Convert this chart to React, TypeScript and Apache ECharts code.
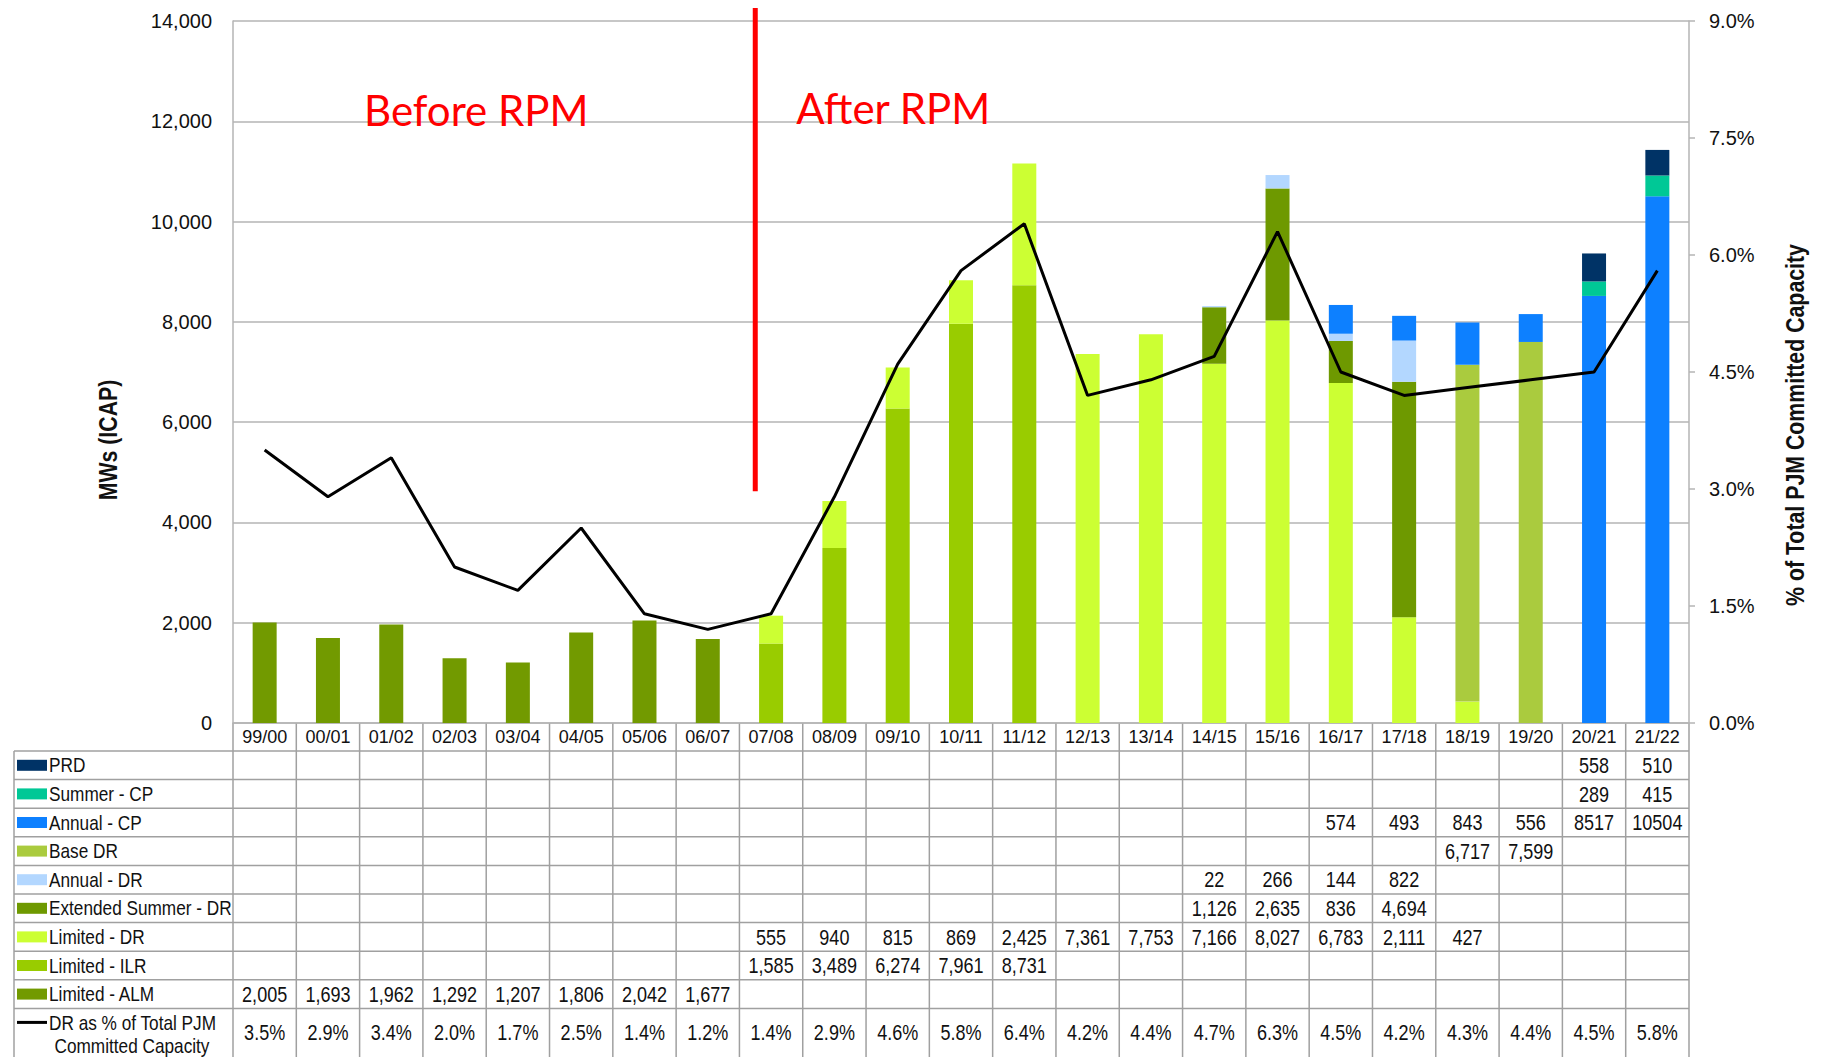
import React, { useEffect, useRef } from "react";
import * as echarts from "echarts";

const categories = ["99/00", "00/01", "01/02", "02/03", "03/04", "04/05", "05/06", "06/07", "07/08", "08/09", "09/10", "10/11", "11/12", "12/13", "13/14", "14/15", "15/16", "16/17", "17/18", "18/19", "19/20", "20/21", "21/22"];

const limitedALM = [2005, 1693, 1962, 1292, 1207, 1806, 2042, 1677, null, null, null, null, null, null, null, null, null, null, null, null, null, null, null];
const limitedILR = [null, null, null, null, null, null, null, null, 1585, 3489, 6274, 7961, 8731, null, null, null, null, null, null, null, null, null, null];
const limitedDR = [null, null, null, null, null, null, null, null, 555, 940, 815, 869, 2425, 7361, 7753, 7166, 8027, 6783, 2111, 427, null, null, null];
const extendedSummerDR = [null, null, null, null, null, null, null, null, null, null, null, null, null, null, null, 1126, 2635, 836, 4694, null, null, null, null];
const annualDR = [null, null, null, null, null, null, null, null, null, null, null, null, null, null, null, 22, 266, 144, 822, null, null, null, null];
const baseDR = [null, null, null, null, null, null, null, null, null, null, null, null, null, null, null, null, null, null, null, 6717, 7599, null, null];
const annualCP = [null, null, null, null, null, null, null, null, null, null, null, null, null, null, null, null, null, 574, 493, 843, 556, 8517, 10504];
const summerCP = [null, null, null, null, null, null, null, null, null, null, null, null, null, null, null, null, null, null, null, null, null, 289, 415];
const prd = [null, null, null, null, null, null, null, null, null, null, null, null, null, null, null, null, null, null, null, null, null, 558, 510];
const drPercent = [3.5, 2.9, 3.4, 2.0, 1.7, 2.5, 1.4, 1.2, 1.4, 2.9, 4.6, 5.8, 6.4, 4.2, 4.4, 4.7, 6.3, 4.5, 4.2, 4.3, 4.4, 4.5, 5.8];

const leftTicks = { min: 0, max: 14000, interval: 2000 };
const rightTicks = { min: 0, max: 9, interval: 1.5 };

const beforeLabel = "Before RPM";
const afterLabel = "After RPM";
const leftTitle = "MWs (ICAP)";
const rightTitle = "% of Total PJM Committed Capacity";
const lineLabel = ["DR as % of Total PJM", "Committed Capacity"];

const COLORS = {
  alm: "#729A00",
  ilr: "#99CC00",
  limDR: "#CCFF33",
  ext: "#6E9900",
  annDR: "#B3D7FF",
  base: "#AACB3E",
  annCP: "#0D80FF",
  sumCP: "#00C896",
  prd: "#003366",
};

// bottom -> top stacking
const stackSeries = [
  { name: "Limited - ALM", data: limitedALM, color: COLORS.alm, comma: true },
  { name: "Limited - ILR", data: limitedILR, color: COLORS.ilr, comma: true },
  { name: "Limited - DR", data: limitedDR, color: COLORS.limDR, comma: true },
  { name: "Extended Summer - DR", data: extendedSummerDR, color: COLORS.ext, comma: true },
  { name: "Annual - DR", data: annualDR, color: COLORS.annDR, comma: true },
  { name: "Base DR", data: baseDR, color: COLORS.base, comma: true },
  { name: "Annual - CP", data: annualCP, color: COLORS.annCP, comma: false },
  { name: "Summer - CP", data: summerCP, color: COLORS.sumCP, comma: true },
  { name: "PRD", data: prd, color: COLORS.prd, comma: true },
];

const SANS = "'Liberation Sans', Arial, Helvetica, sans-serif";
const CALIBRI = "Lato, 'Open Sans', sans-serif";
const NARROW_SCALE = 0.82;

const W = 1824;
const H = 1057;
const GRID = { left: 233, top: 21, right: W - 1689, bottom: H - 723 };
const GRIDLINE = "#B4B4B4";
const TABLE_LINE = "#A0A0A0";
const HEADER_H = 28;
const ROW_H = 28.6;
const TABLE_LEFT = 14;

const fmt = (v: number, comma: boolean) => (comma ? v.toLocaleString("en-US") : String(v));

const narrowText = (text: string, x: number, y: number, align: string, size = 21, bold = false, rotation = 0) => ({
  type: "text",
  x,
  y,
  rotation,
  scaleX: NARROW_SCALE,
  silent: true,
  style: {
    text,
    fontFamily: SANS,
    fontSize: size,
    fontWeight: bold ? "bold" : "normal",
    fill: "#111",
    align,
    verticalAlign: "middle",
  },
});

export default function App() {
  const ref = useRef<HTMLDivElement>(null);
  useEffect(() => {
    const chart = echarts.init(ref.current!, null, { renderer: "svg" });
    const option: any = {
      animation: false,
      backgroundColor: "#fff",
      grid: { ...GRID, containLabel: false },
      xAxis: {
        type: "category",
        data: categories,
        axisLine: { show: true, lineStyle: { color: GRIDLINE, width: 1.5 } },
        axisTick: { show: false },
        axisLabel: {
          fontFamily: SANS,
          fontSize: 18,
          color: "#111",
          margin: 14,
          verticalAlign: "middle",
          interval: 0,
        },
      },
      yAxis: [
        {
          type: "value",
          ...leftTicks,
          axisLine: { show: true, lineStyle: { color: GRIDLINE, width: 1.5 } },
          axisTick: { show: false },
          splitLine: { show: true, lineStyle: { color: GRIDLINE, width: 1.5 } },
          axisLabel: {
            fontFamily: SANS,
            fontSize: 20,
            color: "#111",
            margin: 21,
            formatter: (v: number) => v.toLocaleString("en-US"),
          },
        },
        {
          type: "value",
          position: "right",
          ...rightTicks,
          axisLine: { show: true, lineStyle: { color: GRIDLINE, width: 1.5 } },
          axisTick: { show: true, length: 6, lineStyle: { color: GRIDLINE, width: 1.5 } },
          splitLine: { show: false },
          axisLabel: {
            fontFamily: SANS,
            fontSize: 20,
            color: "#111",
            margin: 20,
            formatter: (v: number) => v.toFixed(1) + "%",
          },
        },
      ],
      series: [
        ...stackSeries.map((s) => ({
          name: s.name,
          type: "bar",
          stack: "dr",
          barWidth: 24,
          data: s.data,
          itemStyle: { color: s.color },
          emphasis: { disabled: true },
        })),
        {
          name: "DR as % of Total PJM Committed Capacity",
          type: "line",
          yAxisIndex: 1,
          data: drPercent,
          symbol: "none",
          lineStyle: { color: "#000", width: 3 },
          z: 5,
        },
      ],
    };
    chart.setOption(option);

    const cx = categories.map((c) => chart.convertToPixel({ xAxisIndex: 0 }, c) as number);
    const cw = cx[1] - cx[0];
    const zeroY = chart.convertToPixel({ yAxisIndex: 0 }, 0) as number;
    const topY = chart.convertToPixel({ yAxisIndex: 0 }, leftTicks.max) as number;
    const gridLeft = cx[0] - cw / 2;
    const gridRight = cx[cx.length - 1] + cw / 2;
    const headerBottom = zeroY + HEADER_H;

    const els: any[] = [];
    const lineStyle = { stroke: TABLE_LINE, lineWidth: 1.5 };
    for (let k = 0; k <= 9; k++) {
      const y = headerBottom + k * ROW_H;
      els.push({ type: "line", shape: { x1: TABLE_LEFT, y1: y, x2: gridRight, y2: y }, style: lineStyle, silent: true });
    }
    els.push({ type: "line", shape: { x1: TABLE_LEFT, y1: headerBottom, x2: TABLE_LEFT, y2: H }, style: lineStyle, silent: true });
    for (let i = 0; i <= categories.length; i++) {
      const x = gridLeft + i * cw;
      els.push({ type: "line", shape: { x1: x, y1: zeroY, x2: x, y2: H }, style: lineStyle, silent: true });
    }
    const rows = [...stackSeries].reverse();
    rows.forEach((s, r) => {
      const yc = headerBottom + r * ROW_H + ROW_H / 2;
      els.push({ type: "rect", shape: { x: 17, y: yc - 5.5, width: 30, height: 11 }, style: { fill: s.color }, silent: true });
      els.push(narrowText(s.name, 49, yc, "left"));
      s.data.forEach((v, i) => {
        if (v == null) return;
        els.push(narrowText(fmt(v as number, s.comma), cx[i], yc, "center", 22));
      });
    });
    const lastTop = headerBottom + 9 * ROW_H;
    const lastMid = (lastTop + H) / 2;
    els.push({ type: "line", shape: { x1: 17, y1: lastTop + 14, x2: 47, y2: lastTop + 14 }, style: { stroke: "#000", lineWidth: 3 }, silent: true });
    els.push(narrowText(lineLabel[0], 49, lastTop + 14, "left"));
    els.push(narrowText(lineLabel[1], 132, lastTop + 37, "center"));
    drPercent.forEach((v, i) => {
      els.push(narrowText(v.toFixed(1) + "%", cx[i], lastMid, "center", 22));
    });

    const divX = cx[7] + 0.75 * cw;
    const divBottom = chart.convertToPixel({ yAxisIndex: 0 }, 4620) as number;
    els.push({ type: "line", shape: { x1: divX, y1: topY - 13, x2: divX, y2: divBottom }, style: { stroke: "#FF0000", lineWidth: 5 }, z: 10, silent: true });
    els.push({
      type: "text",
      x: cx[2] - 0.43 * cw,
      y: 110,
      style: { text: beforeLabel, fontFamily: CALIBRI, fontSize: 42, fill: "#FF0000", align: "left", verticalAlign: "middle" },
      z: 10,
      silent: true,
    });
    els.push({
      type: "text",
      x: divX + 41,
      y: 108,
      style: { text: afterLabel, fontFamily: CALIBRI, fontSize: 42, fill: "#FF0000", align: "left", verticalAlign: "middle" },
      z: 10,
      silent: true,
    });
    els.push(narrowText(leftTitle, 108, 440, "center", 26, true, Math.PI / 2));
    els.push(narrowText(rightTitle, 1795, 425, "center", 26, true, Math.PI / 2));

    chart.setOption({ graphic: els });
    return () => chart.dispose();
  }, []);
  return <div ref={ref} style={{ position: "fixed", left: 0, top: 0, width: W, height: H, background: "#fff" }} />;
}
